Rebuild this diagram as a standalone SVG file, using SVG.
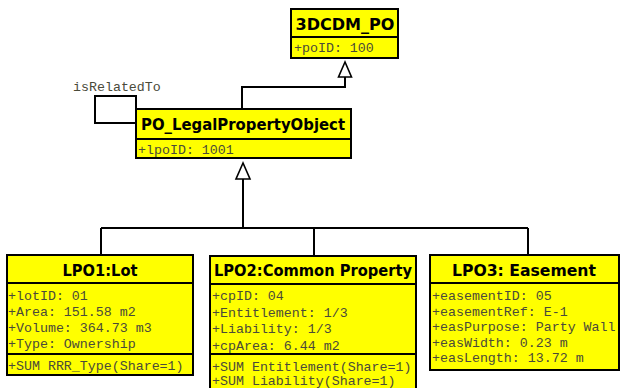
<svg xmlns="http://www.w3.org/2000/svg" width="622" height="388" viewBox="0 0 622 388">
<style>
.box{fill:#ffff00;stroke:#000;stroke-width:2}
.div{stroke:#000;stroke-width:2}
.title{font-family:"DejaVu Sans","Liberation Sans",sans-serif;font-weight:bold;font-size:16.5px;fill:#000;text-anchor:middle}
.attr{font-family:"Liberation Mono","DejaVu Sans Mono",monospace;font-size:13.3px;fill:#4a4a3a}
.line{fill:none;stroke:#000;stroke-width:2}
.tri{fill:#fff;stroke:#000;stroke-width:1.6}
</style>
<rect width="622" height="388" fill="#fff"/>
<g id="connectors">
<path class="line" d="M345 77 V87 H242 V109"/>
<path class="line" d="M136 109 V96 H95 V123 H136"/>
<text class="attr" x="73" y="91">isRelatedTo</text>
<path class="line" d="M243 179 V228 M101 228 H528 M101 228 V255 M314 228 V256 M528 228 V255"/>
<polygon class="tri" points="345,62 338.5,77 351.5,77"/>
<polygon class="tri" points="243,163 236,179 250,179"/>
</g>
<g id="node-3dcdm">
<rect class="box" x="291" y="9" width="107" height="49"/>
<line class="div" x1="291" y1="37" x2="398" y2="37"/>
<text class="title" x="345" y="30" textLength="99" lengthAdjust="spacingAndGlyphs">3DCDM_PO</text>
<text class="attr" x="294" y="52">+poID: 100</text>
</g>
<g id="node-po">
<rect class="box" x="136" y="109" width="215" height="49"/>
<line class="div" x1="136" y1="139" x2="351" y2="139"/>
<text class="title" x="243" y="130" textLength="204" lengthAdjust="spacingAndGlyphs">PO_LegalPropertyObject</text>
<text class="attr" x="138" y="154">+lpoID: 1001</text>
</g>
<g id="node-lot">
<rect class="box" x="7" y="255" width="186" height="120"/>
<line class="div" x1="7" y1="283" x2="193" y2="283"/>
<line class="div" x1="7" y1="354" x2="193" y2="354"/>
<text class="title" x="100" y="276" textLength="75" lengthAdjust="spacingAndGlyphs">LPO1:Lot</text>
<text class="attr" x="8" y="300">+lotID: 01</text>
<text class="attr" x="8" y="316">+Area: 151.58 m2</text>
<text class="attr" x="8" y="332">+Volume: 364.73 m3</text>
<text class="attr" x="8" y="348">+Type: Ownership</text>
<text class="attr" x="8" y="370">+SUM RRR_Type(Share=1)</text>
</g>
<g id="node-common">
<rect class="box" x="210" y="256" width="206" height="140"/>
<line class="div" x1="210" y1="284" x2="416" y2="284"/>
<line class="div" x1="210" y1="354" x2="416" y2="354"/>
<text class="title" x="313" y="276" textLength="198" lengthAdjust="spacingAndGlyphs">LPO2:Common Property</text>
<text class="attr" x="212" y="300">+cpID: 04</text>
<text class="attr" x="212" y="316.5">+Entitlement: 1/3</text>
<text class="attr" x="212" y="333">+Liability: 1/3</text>
<text class="attr" x="212" y="349.5">+cpArea: 6.44 m2</text>
<text class="attr" x="212" y="370.5">+SUM Entitlement(Share=1)</text>
<text class="attr" x="212" y="385">+SUM Liability(Share=1)</text>
</g>
<g id="node-easement">
<rect class="box" x="430" y="255" width="189" height="115"/>
<line class="div" x1="430" y1="283" x2="619" y2="283"/>
<text class="title" x="524" y="276" textLength="144" lengthAdjust="spacingAndGlyphs">LPO3: Easement</text>
<text class="attr" x="432" y="300">+easementID: 05</text>
<text class="attr" x="432" y="315.5">+easementRef: E-1</text>
<text class="attr" x="432" y="331">+easPurpose: Party Wall</text>
<text class="attr" x="432" y="346.5">+easWidth: 0.23 m</text>
<text class="attr" x="432" y="362">+easLength: 13.72 m</text>
</g>
</svg>
